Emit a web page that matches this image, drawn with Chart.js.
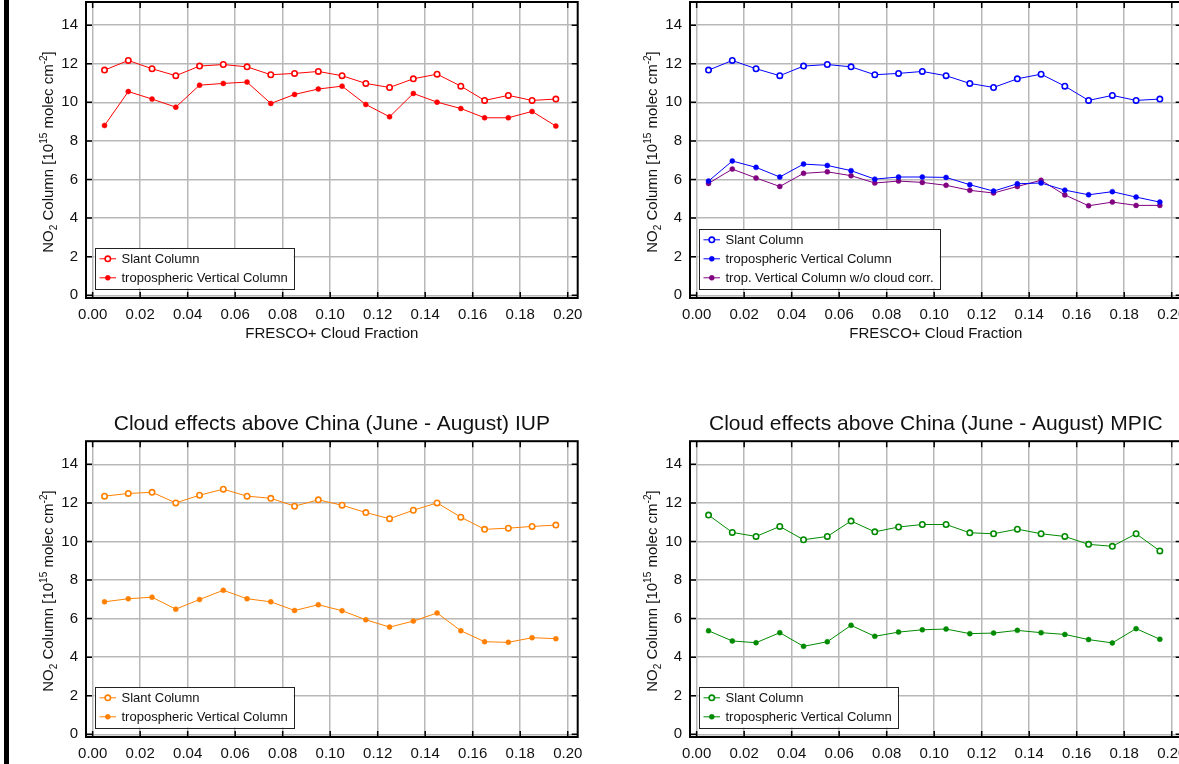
<!DOCTYPE html>
<html>
<head>
<meta charset="utf-8">
<title>Cloud effects above China</title>
<script src="https://cdn.jsdelivr.net/npm/chart.js@4.4.1/dist/chart.umd.min.js"></script>
<style>
    html, body { margin: 0; padding: 0; background: #fff; width: 1179px; height: 764px; overflow: hidden; }
    canvas { position: absolute; }
    #strip { position: absolute; left: 4px; top: 0; width: 5px; height: 764px; background: #000; }
</style>
</head>
<body>
<div id="strip"></div>
<canvas id="panelTL" width="590" height="345" style="left:0px;top:0px"></canvas>
<canvas id="panelTR" width="590" height="345" style="left:604px;top:0px"></canvas>
<canvas id="panelBL" width="590" height="384" style="left:0px;top:400px"></canvas>
<canvas id="panelBR" width="590" height="384" style="left:604px;top:400px"></canvas>
<script>
// bin centres of the FRESCO+ cloud fraction
const cloudFraction = [0.005, 0.015, 0.025, 0.035, 0.045, 0.055, 0.065, 0.075, 0.085, 0.095,
                       0.105, 0.115, 0.125, 0.135, 0.145, 0.155, 0.165, 0.175, 0.185, 0.195];
const xTicks = [0, 0.02, 0.04, 0.06, 0.08, 0.10, 0.12, 0.14, 0.16, 0.18, 0.20];
const yTicks = [0, 2, 4, 6, 8, 10, 12, 14];

// top panels (same slant column in both)
const slantColumn = [11.67, 12.17, 11.74, 11.38, 11.88, 11.96, 11.84, 11.43, 11.50, 11.60,
                     11.38, 10.98, 10.77, 11.22, 11.46, 10.84, 10.10, 10.36, 10.10, 10.17];
const tropColumnTL = [8.80, 10.56, 10.17, 9.75, 10.89, 10.98, 11.05, 9.94, 10.41, 10.69,
                      10.84, 9.89, 9.25, 10.46, 10.01, 9.68, 9.20, 9.20, 9.53, 8.77];
const tropColumnTR = [5.92, 6.96, 6.63, 6.13, 6.80, 6.73, 6.46, 6.02, 6.13, 6.13,
                      6.11, 5.73, 5.40, 5.78, 5.82, 5.45, 5.21, 5.37, 5.09, 4.83];
const tropNoCloudCorr = [5.80, 6.54, 6.08, 5.64, 6.32, 6.40, 6.20, 5.82, 5.92, 5.85,
                         5.70, 5.44, 5.30, 5.64, 5.96, 5.20, 4.64, 4.83, 4.66, 4.66];

// IUP
const iupSlant = [12.35, 12.49, 12.55, 12.00, 12.40, 12.71, 12.35, 12.24, 11.83, 12.16,
                  11.88, 11.50, 11.18, 11.62, 12.00, 11.26, 10.63, 10.69, 10.78, 10.85];
const iupTrop = [6.87, 7.03, 7.11, 6.49, 6.99, 7.47, 7.03, 6.87, 6.42, 6.72,
                 6.41, 5.94, 5.56, 5.87, 6.29, 5.37, 4.80, 4.77, 5.01, 4.96];

// MPIC
const mpicSlant = [11.37, 10.47, 10.26, 10.78, 10.09, 10.26, 11.06, 10.50, 10.75, 10.88,
                   10.88, 10.45, 10.40, 10.64, 10.40, 10.26, 9.85, 9.75, 10.40, 9.51];
const mpicTrop = [5.37, 4.84, 4.75, 5.27, 4.56, 4.80, 5.65, 5.08, 5.30, 5.42,
                  5.46, 5.22, 5.25, 5.39, 5.27, 5.18, 4.91, 4.74, 5.48, 4.93];

const FONT = '"Liberation Sans", Arial, Helvetica, sans-serif';
const TEXT = '#111';

function openSeries(label, values, color) {
    return {
        label: label,
        data: values.map((v, i) => ({x: cloudFraction[i], y: v})),
        borderColor: color,
        borderWidth: 1,
        pointRadius: 2.7,
        pointBorderWidth: 1.6,
        pointBackgroundColor: '#fff',
        pointBorderColor: color,
        showLine: true,
        fill: false
    };
}

function filledSeries(label, values, color) {
    return {
        label: label,
        data: values.map((v, i) => ({x: cloudFraction[i], y: v})),
        borderColor: color,
        borderWidth: 1,
        pointRadius: 2.5,
        pointBorderWidth: 0.5,
        pointBackgroundColor: color,
        pointBorderColor: color,
        showLine: true,
        fill: false
    };
}

// frame with inward ticks on all four sides, legend box, y title with sub/superscripts
const decorPlugin = {
    id: 'decor',
    afterDraw(chart) {
        const {ctx, chartArea: a, scales} = chart;
        ctx.save();
        ctx.strokeStyle = '#000';
        ctx.lineWidth = 1.5;
        xTicks.forEach(v => {
            const px = scales.x.getPixelForValue(v);
            ctx.beginPath();
            ctx.moveTo(px, a.top); ctx.lineTo(px, a.top + 6);
            ctx.moveTo(px, a.bottom); ctx.lineTo(px, a.bottom - 6);
            ctx.stroke();
        });
        yTicks.forEach(v => {
            const py = scales.y.getPixelForValue(v);
            ctx.beginPath();
            ctx.moveTo(a.left, py); ctx.lineTo(a.left + 6, py);
            ctx.moveTo(a.right, py); ctx.lineTo(a.right - 6, py);
            ctx.stroke();
        });
        ctx.lineWidth = 2;
        ctx.strokeRect(a.left, a.top, a.right - a.left, a.bottom - a.top);

        // legend
        const sets = chart.data.datasets;
        ctx.font = '13px ' + FONT;
        let maxW = 0;
        sets.forEach(d => { maxW = Math.max(maxW, ctx.measureText(d.label).width); });
        const rowH = 19;
        const boxW = 27 + maxW + 6;
        const boxH = sets.length * rowH + 2.5;
        const bx = a.left + 8.5;
        const by = a.bottom - 9.5 - boxH;
        ctx.fillStyle = '#fff';
        ctx.fillRect(bx, by, boxW, boxH);
        ctx.strokeStyle = '#222';
        ctx.lineWidth = 1;
        ctx.strokeRect(Math.round(bx) + 0.5, Math.round(by) + 0.5, Math.round(boxW), Math.round(boxH));
        sets.forEach((d, i) => {
            const cy = by + 10.8 + i * rowH;
            ctx.strokeStyle = d.borderColor;
            ctx.lineWidth = d.borderWidth;
            ctx.beginPath();
            ctx.moveTo(bx + 5, cy); ctx.lineTo(bx + 21.5, cy);
            ctx.stroke();
            ctx.beginPath();
            ctx.arc(bx + 13.3, cy, d.pointRadius, 0, Math.PI * 2);
            ctx.fillStyle = d.pointBackgroundColor;
            ctx.fill();
            ctx.lineWidth = d.pointBorderWidth;
            ctx.stroke();
            ctx.fillStyle = TEXT;
            ctx.textBaseline = 'middle';
            ctx.textAlign = 'left';
            ctx.fillText(d.label, bx + 27, cy + 0.5);
        });

        // y axis title: NO2 Column [10^15 molec cm^-2]
        const parts = [
            {t: 'NO', s: 15, dy: 0},
            {t: '2', s: 10, dy: 4},
            {t: ' Column [10', s: 15, dy: 0},
            {t: '15', s: 10, dy: -6},
            {t: ' molec cm', s: 15, dy: 0},
            {t: '-2', s: 10, dy: -6},
            {t: ']', s: 15, dy: 0}
        ];
        let total = 0;
        parts.forEach(p => { ctx.font = p.s + 'px ' + FONT; p.w = ctx.measureText(p.t).width; total += p.w; });
        ctx.translate(47.5, (a.top + a.bottom) / 2 + 2);
        ctx.rotate(-Math.PI / 2);
        ctx.fillStyle = TEXT;
        ctx.textBaseline = 'alphabetic';
        let x = -total / 2;
        parts.forEach(p => {
            ctx.font = p.s + 'px ' + FONT;
            ctx.fillText(p.t, x, 5.5 + p.dy);
            x += p.w;
        });
        ctx.restore();
    }
};

function makePanel(id, datasets, title) {
    const hasTitle = !!title;
    return new Chart(document.getElementById(id), {
        type: 'scatter',
        data: {datasets: datasets},
        plugins: [decorPlugin],
        options: {
            responsive: false,
            animation: false,
            devicePixelRatio: 1,
            layout: {autoPadding: false, padding: {left: 0, right: 12.3, top: hasTitle ? 0 : 2, bottom: 0}},
            plugins: {
                legend: {display: false},
                tooltip: {enabled: false},
                title: {
                    display: hasTitle,
                    text: title || '',
                    fullSize: false,
                    color: TEXT,
                    font: {family: FONT, size: 21, weight: 'normal'},
                    padding: {top: 12, bottom: 4}
                }
            },
            scales: {
                x: {
                    type: 'linear',
                    min: -0.0028,
                    max: 0.2042,
                    afterBuildTicks: s => { s.ticks = xTicks.map(v => ({value: v})); },
                    afterFit: s => { s.height = 47; s.paddingLeft = 0; s.paddingRight = 0; },
                    grid: {color: '#b8b8b8', lineWidth: 1.5, drawTicks: false},
                    border: {display: false},
                    ticks: {
                        color: TEXT, padding: 8, maxRotation: 0,
                        font: {family: FONT, size: 15},
                        callback: v => Number(v).toFixed(2)
                    },
                    title: {
                        display: true,
                        text: 'FRESCO+ Cloud Fraction',
                        color: TEXT,
                        font: {family: FONT, size: 15},
                        padding: {top: 0, bottom: 2}
                    }
                },
                y: {
                    type: 'linear',
                    min: -0.14,
                    max: 15.2,
                    afterBuildTicks: s => { s.ticks = yTicks.map(v => ({value: v})); },
                    afterFit: s => { s.width = 86; s.paddingTop = 0; s.paddingBottom = 0; },
                    grid: {color: '#b8b8b8', lineWidth: 1.5, drawTicks: false},
                    border: {display: false},
                    ticks: {
                        color: TEXT, padding: 8,
                        font: {family: FONT, size: 15},
                        callback: v => String(v)
                    }
                }
            }
        }
    });
}

makePanel('panelTL', [
    openSeries('Slant Column', slantColumn, '#ff0000'),
    filledSeries('tropospheric Vertical Column', tropColumnTL, '#ff0000')
]);

makePanel('panelTR', [
    openSeries('Slant Column', slantColumn, '#0000ff'),
    filledSeries('tropospheric Vertical Column', tropColumnTR, '#0000ff'),
    filledSeries('trop. Vertical Column w/o cloud corr.', tropNoCloudCorr, '#800080')
]);

makePanel('panelBL', [
    openSeries('Slant Column', iupSlant, '#ff8000'),
    filledSeries('tropospheric Vertical Column', iupTrop, '#ff8000')
], 'Cloud effects above China (June - August) IUP');

makePanel('panelBR', [
    openSeries('Slant Column', mpicSlant, '#008a00'),
    filledSeries('tropospheric Vertical Column', mpicTrop, '#008a00')
], 'Cloud effects above China (June - August) MPIC');
</script>
</body>
</html>
